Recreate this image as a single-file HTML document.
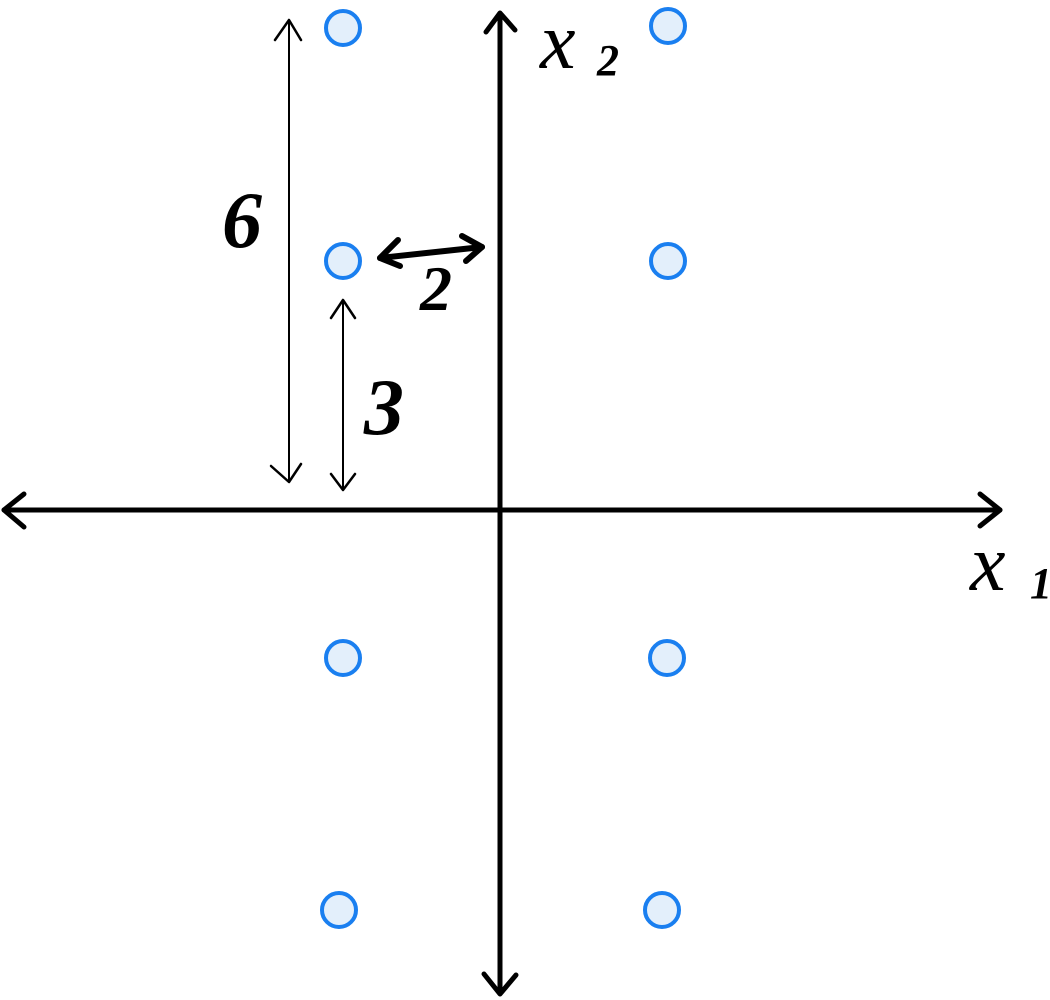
<!DOCTYPE html>
<html><head><meta charset="utf-8"><style>
html,body{margin:0;padding:0;background:#fff;}
svg{display:block;}
text{font-family:"Liberation Serif",serif;font-style:italic;fill:#000;}
</style></head><body>
<svg width="1050" height="1000" viewBox="0 0 1050 1000" xmlns="http://www.w3.org/2000/svg">
<g stroke="#000" fill="none" stroke-linecap="round" stroke-linejoin="round">
<!-- axes -->
<path d="M500 14 L500 993" stroke-width="5"/>
<path d="M486 32 L500 13 L515 30" stroke-width="5"/>
<path d="M484 974 L500 994 L516 975" stroke-width="5"/>
<path d="M4 510 L1000 510" stroke-width="5"/>
<path d="M24 494 L4 510 L24 527" stroke-width="5"/>
<path d="M980 494 L1000 510 L980 526" stroke-width="5"/>
<!-- 6 arrow -->
<path d="M289 20 L289 482" stroke-width="2"/>
<path d="M275 40 L289 20 L301 40" stroke-width="2.5"/>
<path d="M271 466 L289 482 L301 464" stroke-width="2.5"/>
<!-- 3 arrow -->
<path d="M343 300 L343 490" stroke-width="2"/>
<path d="M331 318 L343 300 L355 318" stroke-width="2.5"/>
<path d="M331 474 L343 490 L355 474" stroke-width="2.5"/>
<!-- 2 arrow -->
<path d="M380 258 L482 247" stroke-width="6"/>
<path d="M398 240 L380 258 L400 266" stroke-width="6"/>
<path d="M462 236 L482 247 L466 261" stroke-width="6"/>
</g>
<g stroke="#1a7ff0" stroke-width="4" fill="#e3effb">
<circle cx="343" cy="28" r="17"/>
<circle cx="668" cy="26" r="17"/>
<circle cx="343" cy="261" r="17"/>
<circle cx="668" cy="261" r="17"/>
<circle cx="343" cy="658" r="17"/>
<circle cx="667" cy="658" r="17"/>
<circle cx="339" cy="910" r="17"/>
<circle cx="662" cy="910" r="17"/>
</g>
<text x="222" y="247" font-size="80" font-weight="bold">6</text>
<text x="364" y="434" font-size="80" font-weight="bold">3</text>
<text x="420" y="310" font-size="64" font-weight="bold">2</text>
<text x="540" y="68" font-size="80">x</text>
<text x="597" y="75" font-size="44" font-weight="bold">2</text>
<text x="970" y="590" font-size="80">x</text>
<text x="1030" y="598" font-size="44" font-weight="bold">1</text>
</svg>
</body></html>
